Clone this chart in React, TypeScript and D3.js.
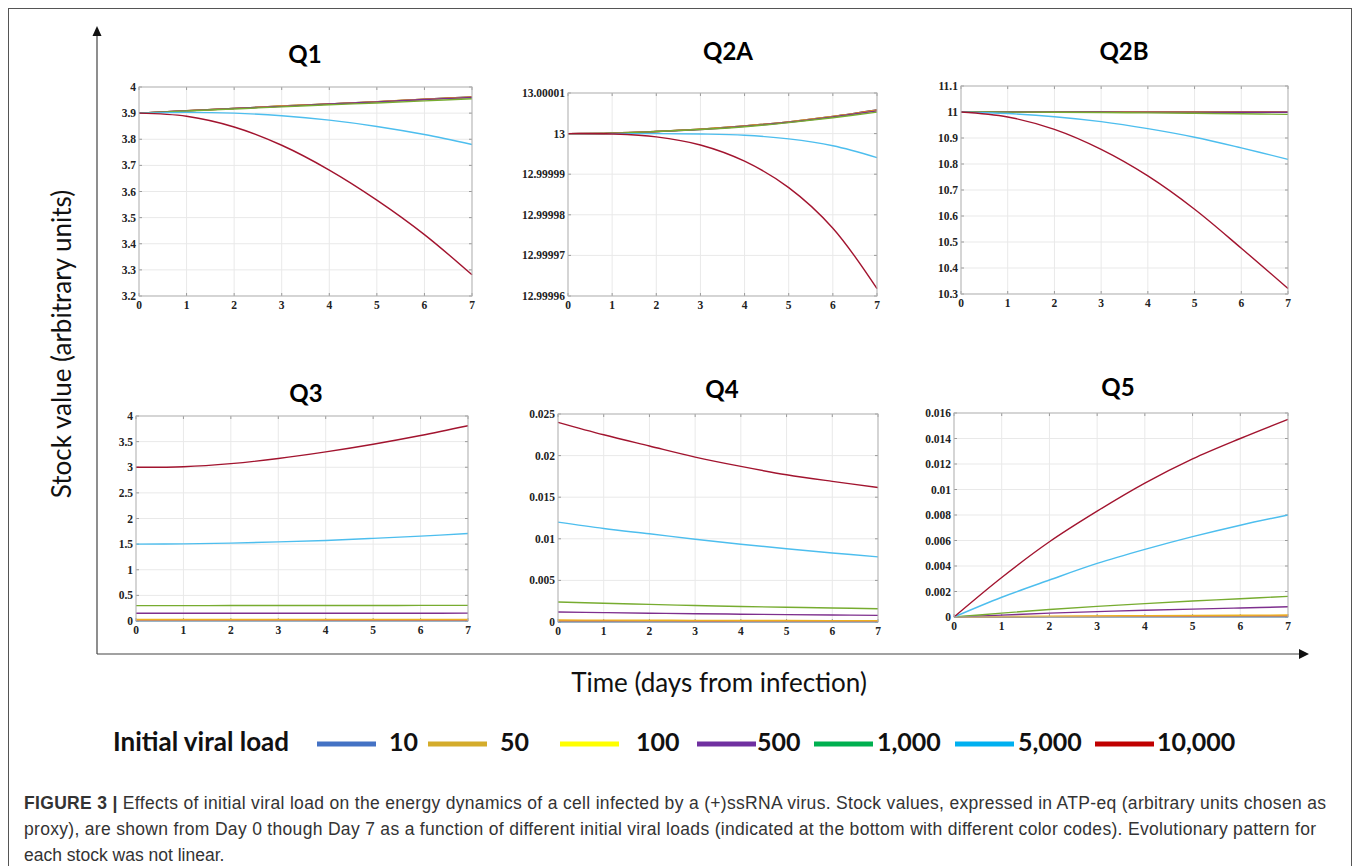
import React from "react";
import * as d3 from "d3";

// ---- data ----
const days = [0, 1, 2, 3, 4, 5, 6, 7];
const loadLabels = ["10", "50", "100", "500", "1,000", "5,000", "10,000"];

// MATLAB default order for the plotted lines, Office colours in the legend
const plotColors = ["#0072BD", "#D95319", "#EDB120", "#7E2F8E", "#77AC30", "#4DBEEE", "#A2142F"];
const legendColors = ["#4472C4", "#D4AC2B", "#FFFF00", "#7030A0", "#00B050", "#00B0F0", "#C00000"];

// one array per initial viral load (10 ... 10,000), one value per day
const q1Values = [
  [3.9, 3.909, 3.918, 3.927, 3.935, 3.944, 3.953, 3.962],
  [3.9, 3.909, 3.918, 3.927, 3.935, 3.944, 3.953, 3.962],
  [3.9, 3.909, 3.918, 3.927, 3.935, 3.944, 3.953, 3.961],
  [3.9, 3.909, 3.918, 3.926, 3.935, 3.943, 3.952, 3.96],
  [3.9, 3.908, 3.916, 3.924, 3.932, 3.939, 3.947, 3.955],
  [3.9, 3.903, 3.9, 3.89, 3.873, 3.849, 3.818, 3.78],
  [3.9, 3.888, 3.847, 3.777, 3.682, 3.567, 3.435, 3.281],
];
const q2aValues = [
  [13, 13.0000001, 13.0000005, 13.0000011, 13.0000019, 13.0000029, 13.0000042, 13.0000058],
  [13, 13.0000001, 13.0000005, 13.0000011, 13.0000019, 13.0000029, 13.0000042, 13.0000058],
  [13, 13.0000001, 13.0000005, 13.0000011, 13.0000019, 13.0000029, 13.0000042, 13.0000057],
  [13, 13.0000001, 13.0000005, 13.000001, 13.0000018, 13.0000028, 13.0000041, 13.0000056],
  [13, 13.0000001, 13.0000005, 13.000001, 13.0000017, 13.0000027, 13.0000039, 13.0000053],
  [13, 13, 13, 12.9999999, 12.9999996, 12.9999987, 12.999997, 12.9999941],
  [13, 12.9999999, 12.9999992, 12.9999972, 12.9999932, 12.9999867, 12.9999767, 12.9999618],
];
const q2bValues = [
  [11, 11, 11, 11, 11, 11, 10.9999, 10.9998],
  [11, 11, 11, 11, 11, 10.9999, 10.9998, 10.9997],
  [11, 11, 11, 11, 10.9999, 10.9998, 10.9997, 10.9995],
  [11, 11, 10.9999, 10.9998, 10.9996, 10.9994, 10.9991, 10.9988],
  [11, 10.9997, 10.999, 10.998, 10.9967, 10.995, 10.993, 10.991],
  [11, 10.994, 10.982, 10.963, 10.936, 10.903, 10.862, 10.818],
  [11, 10.981, 10.933, 10.856, 10.754, 10.626, 10.476, 10.321],
];
const q3Values = [
  [0.003, 0.003, 0.003, 0.003, 0.003, 0.003, 0.003, 0.003],
  [0.015, 0.015, 0.015, 0.015, 0.015, 0.015, 0.016, 0.016],
  [0.03, 0.03, 0.03, 0.03, 0.031, 0.031, 0.031, 0.032],
  [0.15, 0.15, 0.15, 0.151, 0.151, 0.152, 0.152, 0.153],
  [0.3, 0.3, 0.301, 0.301, 0.302, 0.303, 0.304, 0.305],
  [1.5, 1.505, 1.519, 1.543, 1.572, 1.612, 1.656, 1.708],
  [3.0, 3.01, 3.07, 3.17, 3.3, 3.45, 3.62, 3.81],
];
const q4Values = [
  [0.000024, 0.0000225, 0.000021, 0.00002, 0.0000187, 0.0000177, 0.0000169, 0.0000162],
  [0.00012, 0.000113, 0.000106, 0.000099, 0.000094, 0.000089, 0.000084, 0.000081],
  [0.00024, 0.000225, 0.00021, 0.0002, 0.000187, 0.000177, 0.000169, 0.000162],
  [0.0012, 0.00113, 0.00106, 0.00099, 0.00094, 0.00089, 0.00084, 0.0008],
  [0.0024, 0.00225, 0.00212, 0.00198, 0.00187, 0.00177, 0.00168, 0.0016],
  [0.012, 0.01124, 0.0106, 0.00995, 0.00935, 0.0088, 0.0083, 0.00783],
  [0.024, 0.0225, 0.02115, 0.01982, 0.0187, 0.0177, 0.0169, 0.01617],
];
const q5Values = [
  [0, 0.000003, 0.000006, 0.0000083, 0.0000105, 0.0000124, 0.000014, 0.0000155],
  [0, 0.000016, 0.00003, 0.000042, 0.000053, 0.000062, 0.00007, 0.000078],
  [0, 0.00003, 0.00006, 0.000083, 0.000105, 0.000124, 0.00014, 0.000155],
  [0, 0.00015, 0.0003, 0.00042, 0.00053, 0.00062, 0.00071, 0.0008],
  [0, 0.0003, 0.00059, 0.00083, 0.00105, 0.00125, 0.00143, 0.00162],
  [0, 0.00155, 0.0029, 0.0042, 0.0053, 0.0063, 0.0072, 0.008],
  [0, 0.0031, 0.0059, 0.0083, 0.0105, 0.0124, 0.014, 0.0155],
];

const xTickLabels = ["0", "1", "2", "3", "4", "5", "6", "7"];
const q1Ticks = ["3.2", "3.3", "3.4", "3.5", "3.6", "3.7", "3.8", "3.9", "4"];
const q2aTicks = ["12.99996", "12.99997", "12.99998", "12.99999", "13", "13.00001"];
const q2bTicks = ["10.3", "10.4", "10.5", "10.6", "10.7", "10.8", "10.9", "11", "11.1"];
const q3Ticks = ["0", "0.5", "1", "1.5", "2", "2.5", "3", "3.5", "4"];
const q4Ticks = ["0", "0.005", "0.01", "0.015", "0.02", "0.025"];
const q5Ticks = ["0", "0.002", "0.004", "0.006", "0.008", "0.01", "0.012", "0.014", "0.016"];

const captionLines = [
  "Effects of initial viral load on the energy dynamics of a cell infected by a (+)ssRNA virus. Stock values, expressed in ATP-eq (arbitrary units chosen as",
  "proxy), are shown from Day 0 though Day 7 as a function of different initial viral loads (indicated at the bottom with different color codes). Evolutionary pattern for",
  "each stock was not linear.",
];

// ---- layout ----
const panels = [
  { title: "Q1", values: q1Values, ticks: q1Ticks, box: [139, 87, 472, 296], tx: 305, ty: 63 },
  { title: "Q2A", values: q2aValues, ticks: q2aTicks, box: [568, 93, 877, 296], tx: 728, ty: 60 },
  { title: "Q2B", values: q2bValues, ticks: q2bTicks, box: [961, 86, 1288, 294], tx: 1124, ty: 60 },
  { title: "Q3", values: q3Values, ticks: q3Ticks, box: [136, 416, 468, 621], tx: 306, ty: 402 },
  { title: "Q4", values: q4Values, ticks: q4Ticks, box: [558, 414, 878, 622], tx: 722, ty: 398 },
  { title: "Q5", values: q5Values, ticks: q5Ticks, box: [954, 413, 1288, 617], tx: 1118, ty: 396 },
];

const legendLineX = [317, 428, 560, 697, 814, 955, 1095];
const legendTextX = [389, 500, 636, 757, 877, 1018, 1157];

const Panel = ({ p }) => {
  const [x0, y0, x1, y1] = p.box;
  const tickVals = p.ticks.map(Number);
  const x = d3.scaleLinear().domain([0, 7]).range([x0, x1]);
  const y = d3.scaleLinear().domain([tickVals[0], tickVals[tickVals.length - 1]]).range([y1, y0]);
  const line = d3
    .line<number>()
    .x((_, i) => x(days[i]))
    .y((d) => y(d))
    .curve(d3.curveCatmullRom.alpha(0.5));

  return (
    <g>
      <text x={p.tx} y={p.ty} textAnchor="middle" fontFamily="Lato" fontWeight="bold" fontSize={24}>
        {p.title}
      </text>
      {days.map((d) => (
        <line key={"gx" + d} x1={x(d)} x2={x(d)} y1={y0} y2={y1} stroke="#e9e9e9" />
      ))}
      {tickVals.map((t, i) => (
        <line key={"gy" + i} x1={x0} x2={x1} y1={y(t)} y2={y(t)} stroke="#e9e9e9" />
      ))}
      {days.map((d) => (
        <g key={"tx" + d} stroke="#9a9a9a">
          <line x1={x(d)} x2={x(d)} y1={y1} y2={y1 - 3} />
          <line x1={x(d)} x2={x(d)} y1={y0} y2={y0 + 3} />
        </g>
      ))}
      {tickVals.map((t, i) => (
        <g key={"ty" + i} stroke="#9a9a9a">
          <line x1={x0} x2={x0 + 3} y1={y(t)} y2={y(t)} />
          <line x1={x1} x2={x1 - 3} y1={y(t)} y2={y(t)} />
        </g>
      ))}
      {p.values.map((s, i) => (
        <path key={"s" + i} d={line(s)} fill="none" stroke={plotColors[i]} strokeWidth={1.4} />
      ))}
      <rect x={x0} y={y0} width={x1 - x0} height={y1 - y0} fill="none" stroke="#b5b5b5" />
      {days.map((d, i) => (
        <text
          key={"lx" + d}
          x={x(d)}
          y={y1 + 13}
          textAnchor="middle"
          fontFamily="Liberation Serif"
          fontWeight="bold"
          fontSize={11.5}
          fill="#222"
        >
          {xTickLabels[i]}
        </text>
      ))}
      {tickVals.map((t, i) => (
        <text
          key={"ly" + i}
          x={x0 - 3}
          y={y(t) + 4}
          textAnchor="end"
          fontFamily="Liberation Serif"
          fontWeight="bold"
          fontSize={11.5}
          fill="#222"
        >
          {p.ticks[i]}
        </text>
      ))}
    </g>
  );
};

export default function App() {
  const W = 1358;
  const H = 866;
  return (
    <svg width={W} height={H} style={{ position: "absolute", left: 0, top: 0, background: "#fff" }}>
      <rect x={0} y={0} width={W} height={H} fill="#fff" />
      <rect x={8.5} y={8.5} width={1343} height={H + 10} fill="none" stroke="#555" strokeWidth={1} />

      {/* big axes with arrows */}
      <g stroke="#444" fill="#111">
        <line x1={97} y1={654} x2={97} y2={34} strokeWidth={1.2} />
        <line x1={97} y1={654} x2={1300} y2={654} strokeWidth={1.2} />
        <path d="M97,26 L92.5,36 L101.5,36 Z" stroke="none" />
        <path d="M1309,654 L1299,649 L1299,659 Z" stroke="none" />
      </g>
      <text
        transform="translate(71,344) rotate(-90)"
        textAnchor="middle"
        fontFamily="Lato"
        fontSize={26}
        fill="#111"
      >
        Stock value (arbitrary units)
      </text>
      <text x={719} y={692} textAnchor="middle" fontFamily="Lato" fontSize={26} fill="#111">
        Time (days from infection)
      </text>

      {panels.map((p) => (
        <Panel key={p.title} p={p} />
      ))}

      {/* legend */}
      <text x={113} y={751} fontFamily="Lato" fontWeight="bold" fontSize={26} fill="#111">
        Initial viral load
      </text>
      {loadLabels.map((l, i) => (
        <g key={l}>
          <line
            x1={legendLineX[i]}
            x2={legendLineX[i] + 59}
            y1={744}
            y2={744}
            stroke={legendColors[i]}
            strokeWidth={5}
          />
          <text x={legendTextX[i]} y={751} fontFamily="Lato" fontWeight="bold" fontSize={25} fill="#111">
            {l}
          </text>
        </g>
      ))}

      {/* caption */}
      <g fontFamily="Liberation Sans" fontSize={17.5} fill="#333">
        <text x={24} y={809} textLength={1302} lengthAdjust="spacing">
          <tspan fontWeight="bold">FIGURE 3 | </tspan>
          {captionLines[0]}
        </text>
        <text x={24} y={835} textLength={1292} lengthAdjust="spacing">
          {captionLines[1]}
        </text>
        <text x={24} y={861}>
          {captionLines[2]}
        </text>
      </g>
    </svg>
  );
}
